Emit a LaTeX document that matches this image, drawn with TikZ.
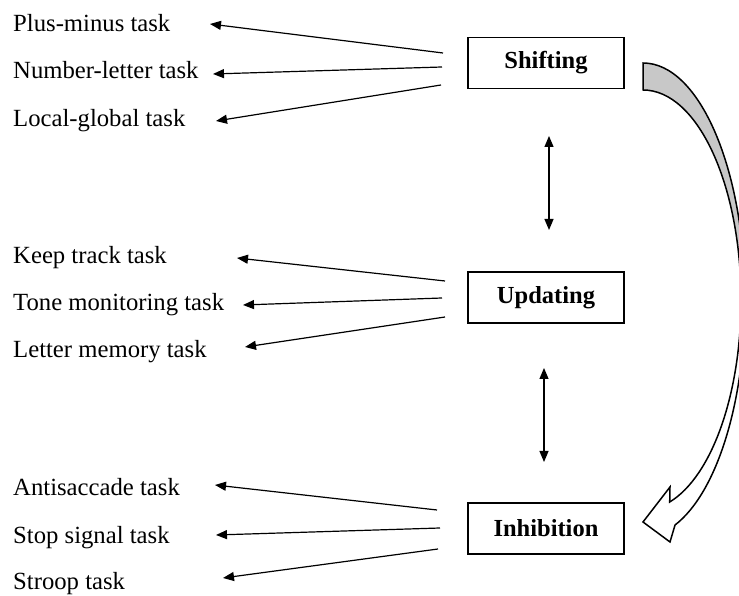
\documentclass[tikz,border=0pt]{standalone}
\usepackage{fontspec}
\setmainfont{Liberation Serif}
\usetikzlibrary{arrows.meta}
\definecolor{bandgray}{RGB}{200,200,200}
\begin{document}
\begin{tikzpicture}[x=1pt,y=1pt,
  task/.style={anchor=base west, inner sep=0pt, font=\fontsize{24.7}{28}\selectfont},
  box/.style={draw, line width=1.2pt, minimum width=156pt, minimum height=51pt, inner sep=0pt, font=\fontsize{24.5}{28}\selectfont\bfseries},
  link/.style={line width=1.2pt, -{Triangle[length=11pt,width=9pt]}},
  both/.style={line width=1.2pt, {Triangle[length=11pt,width=9pt]}-{Triangle[length=11pt,width=9pt]}},
  band/.style={line width=1.5pt, line join=miter}]
\useasboundingbox (0,0) rectangle (739,596);

% boxes
\node[box] (shift) at (546,533) {Shifting};
\node[box] (upd) at (546,298.5) {Updating};
\node[box] (inh) at (546,67.5) {Inhibition};

% task labels
\node[task] (pm) at (13,564.3) {Plus-minus task};
\node[task] (nl) at (13,517) {Number-letter task};
\node[task] (lg) at (13,469.3) {Local-global task};
\node[task] (kt) at (13,332.7) {Keep track task};
\node[task] (tm) at (13,285) {Tone monitoring task};
\node[task] (lm) at (13,238) {Letter memory task};
\node[task] (as) at (13,100) {Antisaccade task};
\node[task] (ss) at (13,52) {Stop signal task};
\node[task] (st) at (13,6) {Stroop task};

% connector end points
\coordinate (s1) at (443,543); \coordinate (t1) at (210,572);
\coordinate (s2) at (442,529); \coordinate (t2) at (213,522);
\coordinate (s3) at (441,511); \coordinate (t3) at (216,475);
\coordinate (s4) at (445,315); \coordinate (t4) at (237,338);
\coordinate (s5) at (442,298); \coordinate (t5) at (243,291);
\coordinate (s6) at (445,279); \coordinate (t6) at (245,249);
\coordinate (s7) at (437,86);  \coordinate (t7) at (215,111);
\coordinate (s8) at (440,68);  \coordinate (t8) at (216,61);
\coordinate (s9) at (438,47);  \coordinate (t9) at (223,18);
\coordinate (d1a) at (549,460); \coordinate (d1b) at (549,366);
\coordinate (d2a) at (544,228); \coordinate (d2b) at (544,134);

\foreach \i in {1,...,9} \draw[link] (s\i) -- (t\i);
\draw[both] (d1a) -- (d1b);
\draw[both] (d2a) -- (d2b);

% curved arrow (clipped at the picture edge)
\begin{scope}
\clip (0,0) rectangle (739,596);
\draw[band, fill=bandgray] (643,533) arc[start angle=90, end angle=0, x radius=102, y radius=237]
  -- (741,296) arc[start angle=0, end angle=90, x radius=98, y radius=210] -- cycle;
\draw[band, fill=white] (745,296) arc[start angle=0, end angle=-71.7, x radius=102, y radius=237]
  -- (670,54) -- (643,74) -- (670,109) -- (669.7,94)
  arc[start angle=-74.2, end angle=0, x radius=98, y radius=210] -- cycle;
\end{scope}
\end{tikzpicture}
\end{document}
